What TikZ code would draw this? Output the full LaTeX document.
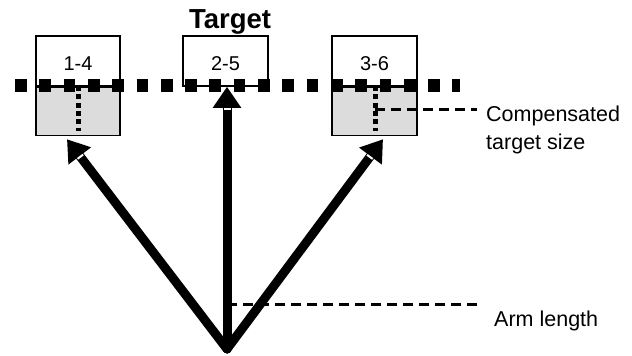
\documentclass[tikz,border=0pt]{standalone}
\usepackage{fontspec}
\setmainfont{Liberation Sans}
\usetikzlibrary{arrows.meta,calc}
\definecolor{boxgray}{HTML}{DCDCDC}
\begin{document}
\begin{tikzpicture}[x=1pt,y=-1pt,
  box/.style={draw, line width=1.5pt, inner sep=0pt, minimum width=84pt,
    font=\fontsize{20}{24}\selectfont, text height=18pt, text depth=0pt},
  topbox/.style={box, fill=white, minimum height=50pt},
  botbox/.style={box, fill=boxgray, minimum height=48pt},
  sqline/.style={line width=12.5pt, dash pattern=on 11.7pt off 12.6pt},
  dotline/.style={line width=5pt, dash pattern=on 5pt off 3.3pt},
  dashline/.style={line width=3pt, dash pattern=on 10pt off 6pt},
  armarrow/.style={line width=9pt, line cap=round, -{Triangle[length=21pt,width=27pt]}},
  markline/.style={white, line width=2pt},
  lbl/.style={inner sep=0pt, font=\fontsize{21.5}{27.3}\selectfont}
]
\useasboundingbox (0,0) rectangle (632,356);

% boxes
\node[topbox] (b1top) at (78,61) {1-4};
\node[botbox, anchor=north] (b1bot) at (b1top.south) {};
\node[topbox, minimum width=85pt] (b2) at (225.5,61) {2-5};
\node[topbox, minimum width=85pt] (b3top) at (374.5,61) {3-6};
\node[botbox, minimum width=85pt, anchor=north] (b3bot) at (b3top.south) {};

% title
\node[inner sep=0pt, font=\bfseries\fontsize{27.5}{33}\selectfont, anchor=base] (title) at (230,28) {Target};

% thick square-dotted line
\coordinate (L) at (15,85.5);
\coordinate (R) at (460,85.5);
\draw[sqline] (L) -- (R);

% inner dotted lines
\coordinate (d1a) at (78,86);
\coordinate (d1b) at (78,131);
\coordinate (d3a) at (375,86);
\coordinate (d3b) at (375,131);
\draw[dotline] (d1a) -- (d1b);
\draw[dotline] (d3a) -- (d3b);

% compensated target size
\coordinate (c0) at (375,109);
\coordinate (c1) at (477,109);
\draw[dashline] (c0) -- (c1);
\node[lbl, anchor=base west, align=left] (comp) at (486,149) {Compensated\\target size};

% arms
\coordinate (o) at (227,349);
\coordinate (t1) at ($(b1bot.south)+(-11,3)$);
\coordinate (t2) at (o |- b2.south);
\coordinate (t3) at ($(b3bot.south)+(8.5,3)$);
\draw[armarrow] (o) -- (t1);
\draw[armarrow] (o) -- (t2);
\draw[armarrow] (o) -- (t3);
\foreach \t in {t1,t2,t3}{
  \coordinate (m) at ($(\t)!22pt!(o)$);
  \draw[markline] ($(m)!3.5pt!90:(o)$) -- ($(m)!3.5pt!-90:(o)$);
}

% arm length
\coordinate (a0) at (227,304);
\coordinate (a1) at (480,304);
\draw[dashline] (a0) -- (a1);
\node[lbl, anchor=base west] (arm) at (494,326) {Arm length};
\end{tikzpicture}
\end{document}
